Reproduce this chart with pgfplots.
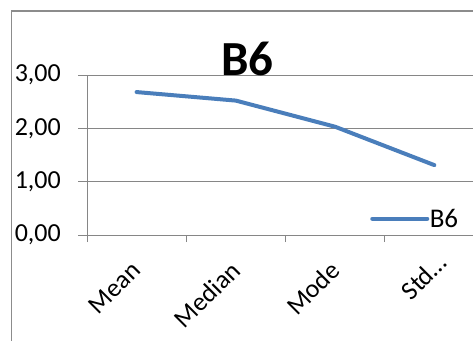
\documentclass[border=0pt]{standalone}
\usepackage{fontspec}
\setmainfont{Carlito}
\usepackage{pgfplots}
\pgfplotsset{compat=1.18}

\definecolor{seriesblue}{HTML}{4A7EBB}
\definecolor{gridgray}{HTML}{868686}
\definecolor{framegray}{HTML}{8C8C8C}

\pgfplotstableread{
pos value
0.5 2.68
1.5 2.52
2.5 2.03
3.5 1.31
}\statsB

\begin{document}
\begin{tikzpicture}[x=1pt,y=1pt]
\useasboundingbox (0,0) rectangle (473,340);
\clip (0,0) rectangle (473,340);
% chart frame
\draw[framegray, line width=1.2pt] (11.5,-5) -- (11.5,329) -- (480,329);
\begin{axis}[
  at={(87pt,105pt)}, anchor=origin,
  scale only axis,
  width=397pt, height=160pt,
  xmin=0, xmax=4, ymin=0, ymax=3,
  axis x line*=bottom, axis y line*=left,
  axis line style={gridgray, line width=1pt},
  ytick={0,1,2,3},
  yticklabels={{0,00},{1,00},{2,00},{3,00}},
  xtick={0.5,1.5,2.5,3.5},
  xticklabels={Mean,Median,Mode,Std…\hspace*{-11pt}},
  minor xtick={0,1,2,3,4},
  tick align=outside,
  major tick length=9pt,
  minor tick length=7pt,
  major x tick style={draw=none},
  every tick/.style={gridgray, line width=1pt},
  every minor tick/.style={gridgray, line width=1pt},
  ymajorgrids,
  grid style={gridgray, line width=1pt},
  ticklabel style={font=\fontsize{26}{26}\selectfont, inner sep=0pt},
  yticklabel style={anchor=east, xshift=-17pt},
  xticklabel style={xshift=0pt, yshift=-22pt, rotate=45, anchor=east},
  legend style={at={(0.713,0.102)}, anchor=west, draw=none, fill=none,
    inner sep=0pt, font=\fontsize{27}{27}\selectfont,
    nodes={inner sep=0.5pt}},
  legend image code/.code={\draw[#1] (0pt,0pt) -- (55pt,0pt);},
  clip=false,
]
\addplot[seriesblue, line width=4pt, line cap=round, line join=round] table[x=pos, y=value] {\statsB};
\addlegendentry{B6}
\end{axis}
\node[anchor=base, font=\fontsize{49}{49}\selectfont\bfseries] at (247.5,264) {B6};
\end{tikzpicture}
\end{document}
